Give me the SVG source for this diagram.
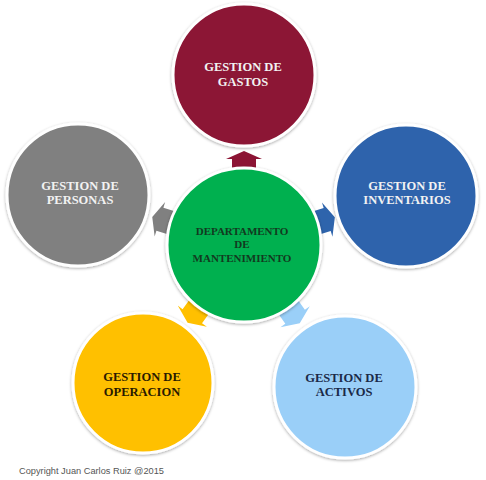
<svg xmlns="http://www.w3.org/2000/svg" width="486" height="480" viewBox="0 0 486 480">
<defs>
<filter id="sh" x="-20%" y="-20%" width="140%" height="140%">
<feDropShadow dx="0" dy="1" stdDeviation="1.8" flood-color="#000" flood-opacity="0.35"/>
</filter>
<path id="arr" d="M-16,-12 L0,-12 L0,-18 L8,0 L0,18 L0,12 L-16,12 Z"/>
</defs>
<style>
.c{stroke:#fff;stroke-width:3;filter:url(#sh)}
.t{font-family:"Liberation Serif","Times New Roman",serif;font-weight:bold;font-size:12.5px;text-anchor:middle}
.lt{fill:#f2f2f2}
</style>
<rect width="486" height="480" fill="#fff"/>
<g id="connectors">
<use href="#arr" transform="translate(244,159) rotate(-90)" fill="#8c1434"/>
<use href="#arr" transform="translate(327.2,219.6) rotate(-17)" fill="#2e64ac"/>
<use href="#arr" transform="translate(159.9,219.3) rotate(197)" fill="#808080"/>
<use href="#arr" transform="translate(192.3,316.2) rotate(126)" fill="#ffc000"/>
<use href="#arr" transform="translate(295.1,316.7) rotate(54.6)" fill="#9acff8"/>
</g>
<g id="gastos">
<circle class="c" cx="244" cy="75" r="71" fill="#8c1434"/>
<text class="t lt" x="243" y="71">GESTION DE</text>
<text class="t lt" x="243" y="86">GASTOS</text>
</g>
<g id="inventarios">
<circle class="c" cx="406" cy="196" r="71" fill="#2e64ac"/>
<text class="t lt" x="407" y="190">GESTION DE</text>
<text class="t lt" x="407" y="204">INVENTARIOS</text>
</g>
<g id="personas">
<circle class="c" cx="78" cy="195" r="71" fill="#808080"/>
<text class="t lt" x="80" y="190">GESTION DE</text>
<text class="t lt" x="80" y="204">PERSONAS</text>
</g>
<g id="operacion">
<circle class="c" cx="143" cy="383" r="70" fill="#ffc000"/>
<text class="t" fill="#2a1a00" x="142" y="381">GESTION DE</text>
<text class="t" fill="#2a1a00" x="142" y="396">OPERACION</text>
</g>
<g id="activos">
<circle class="c" cx="345" cy="387" r="71" fill="#9acff8"/>
<text class="t" fill="#1b2a48" x="344" y="382">GESTION DE</text>
<text class="t" fill="#1b2a48" x="344" y="396">ACTIVOS</text>
</g>
<g id="departamento">
<circle class="c" cx="244" cy="245" r="77" fill="#00b050"/>
<text class="t" fill="#123a20" style="font-size:11px" x="242" y="235">DEPARTAMENTO</text>
<text class="t" fill="#123a20" style="font-size:11px" x="242" y="248">DE</text>
<text class="t" fill="#123a20" style="font-size:11px" x="242" y="262">MANTENIMIENTO</text>
</g>
<text x="19" y="474" font-family="'Liberation Sans',Arial,sans-serif" font-size="8.5" fill="#555" textLength="145" lengthAdjust="spacingAndGlyphs">Copyright Juan Carlos Ruiz @2015</text>
</svg>
